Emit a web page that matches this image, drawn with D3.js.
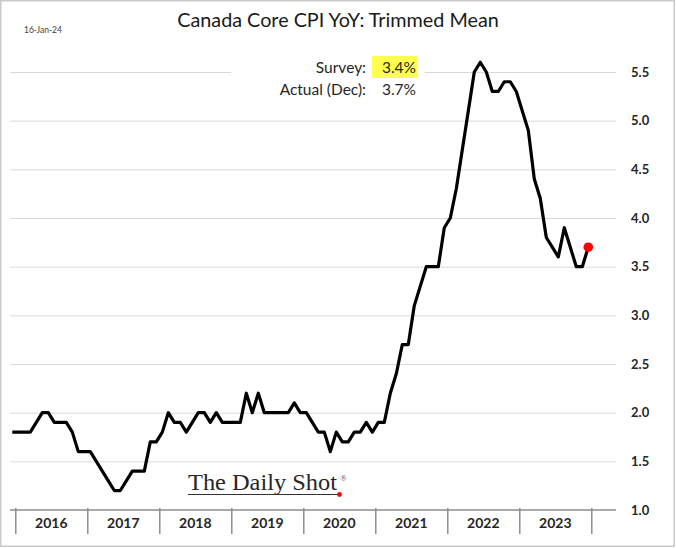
<!DOCTYPE html>
<html>
<head>
<meta charset="utf-8">
<script src="https://cdn.jsdelivr.net/npm/d3@7"></script>
<style>
  html, body { margin: 0; padding: 0; background: #ffffff; }
  svg { display: block; }
</style>
</head>
<body>
<svg id="chart" width="676" height="548"></svg>
<script>
// ---------------- data ----------------
const title = "Canada Core CPI YoY: Trimmed Mean";
const dateLabel = "16-Jan-24";
const firstMonth = "2015-12";           // first plotted observation
const yearLabels = ["2016", "2017", "2018", "2019", "2020", "2021", "2022", "2023"];
const yTicks = [1.0, 1.5, 2.0, 2.5, 3.0, 3.5, 4.0, 4.5, 5.0, 5.5];
// monthly CPI-trim YoY (%), Dec 2015 .. Dec 2023
const dec2015 = [1.8];
const y2016 = [1.8, 1.8, 1.8, 1.9, 2.0, 2.0, 1.9, 1.9, 1.9, 1.8, 1.6, 1.6];
const y2017 = [1.6, 1.5, 1.4, 1.3, 1.2, 1.2, 1.3, 1.4, 1.4, 1.4, 1.7, 1.7];
const y2018 = [1.8, 2.0, 1.9, 1.9, 1.8, 1.9, 2.0, 2.0, 1.9, 2.0, 1.9, 1.9];
const y2019 = [1.9, 1.9, 2.2, 2.0, 2.2, 2.0, 2.0, 2.0, 2.0, 2.0, 2.1, 2.0];
const y2020 = [2.0, 1.9, 1.8, 1.8, 1.6, 1.8, 1.7, 1.7, 1.8, 1.8, 1.9, 1.8];
const y2021 = [1.9, 1.9, 2.2, 2.4, 2.7, 2.7, 3.1, 3.3, 3.5, 3.5, 3.5, 3.9];
const y2022 = [4.0, 4.3, 4.7, 5.1, 5.5, 5.6, 5.5, 5.3, 5.3, 5.4, 5.4, 5.3];
const y2023 = [5.1, 4.9, 4.4, 4.2, 3.8, 3.7, 3.6, 3.9, 3.7, 3.5, 3.5, 3.7];
const surveyLabel = "Survey:";
const surveyValue = "3.4%";
const actualLabel = "Actual (Dec):";
const actualValue = "3.7%";
const logoText = "The Daily Shot";

const values = [].concat(dec2015, y2016, y2017, y2018, y2019, y2020, y2021, y2022, y2023);

// ---------------- layout ----------------
const SANS = "Lato, 'Liberation Sans', sans-serif";
const SERIF = "'Liberation Serif', 'DejaVu Serif', serif";
const svg = d3.select("#chart");
const W = 676, H = 548;
const plotLeft = 10, plotRight = 616;
const yTop = 72, yBottom = 510;

// outer frame
svg.append("rect")
  .attr("x", 0.75).attr("y", 0.75).attr("width", W - 2.5).attr("height", H - 2.5)
  .attr("fill", "#ffffff").attr("stroke", "#c9c9c9").attr("stroke-width", 1.5);

const x = d3.scaleLinear().domain([0, values.length - 1]).range([12.3, 588.3]);
const y = d3.scaleLinear().domain([1.0, 5.5]).range([yBottom, yTop]);

// gridlines
const grid = svg.append("g").attr("transform", `translate(${plotLeft},0)`)
  .call(d3.axisLeft(y).tickValues(yTicks.filter(d => d > 1.0)).tickSize(-(plotRight - plotLeft)).tickFormat(""));
grid.select(".domain").remove();
grid.selectAll("line").attr("stroke", "#d9d9d9").attr("stroke-width", 1);

// y labels on the right
const yAxis = svg.append("g").attr("transform", `translate(627,0)`)
  .call(d3.axisRight(y).tickValues(yTicks).tickSize(0).tickPadding(4).tickFormat(d3.format(".1f")));
yAxis.select(".domain").remove();
yAxis.selectAll("text")
  .attr("font-family", SANS).attr("font-size", 13).attr("font-weight", "bold")
  .attr("fill", "#262626");

// x axis: ticks between years
const tickIdx = d3.range(yearLabels.length + 1).map(k => 0.5 + 12 * k);
const xAxis = svg.append("g").attr("transform", `translate(0,${yBottom})`)
  .call(d3.axisBottom(x).tickValues(tickIdx).tickSize(24).tickFormat(""));
xAxis.select(".domain").remove();
xAxis.selectAll(".tick line").attr("y1", -2).attr("stroke", "#7f7f7f").attr("stroke-width", 1.3);
svg.append("line")
  .attr("x1", plotLeft).attr("x2", plotRight).attr("y1", yBottom).attr("y2", yBottom)
  .attr("stroke", "#8c8c8c").attr("stroke-width", 1.3);
svg.append("g").selectAll("text").data(yearLabels).join("text")
  .attr("x", (d, i) => x(6.5 + 12 * i))
  .attr("y", 527.5)
  .attr("text-anchor", "middle")
  .attr("font-family", SANS)
  .attr("font-size", 14).attr("font-weight", "bold").attr("fill", "#262626")
  .text(d => d);

// annotation box (white, covers gridline)
svg.append("rect").attr("x", 231).attr("y", 50).attr("width", 194).attr("height", 52).attr("fill", "#ffffff");
svg.append("rect").attr("x", 372).attr("y", 56).attr("width", 46).attr("height", 22).attr("fill", "#ffff4f");
const ann = [
  { t: surveyLabel, x: 366, y: 72.5 },
  { t: surveyValue, x: 416, y: 72.5 },
  { t: actualLabel, x: 366, y: 95 },
  { t: actualValue, x: 416, y: 95 }
];
svg.append("g").selectAll("text").data(ann).join("text")
  .attr("x", d => d.x).attr("y", d => d.y).attr("text-anchor", "end")
  .attr("font-family", SANS).attr("font-size", 15.5).attr("fill", "#262626")
  .text(d => d.t);

// title and date
svg.append("text").attr("x", 338).attr("y", 27).attr("text-anchor", "middle")
  .attr("font-family", SANS).attr("font-size", 19.8).attr("fill", "#1a1a1a").text(title);
svg.append("text").attr("x", 24).attr("y", 33)
  .attr("font-family", SANS).attr("font-size", 8.5).attr("fill", "#404040").text(dateLabel);

// logo
svg.append("text").attr("x", 188).attr("y", 489.5)
  .attr("font-family", SERIF)
  .attr("font-size", 22.5).attr("fill", "#262626")
  .attr("textLength", 149).attr("lengthAdjust", "spacingAndGlyphs")
  .text(logoText);
svg.append("text").attr("x", 340).attr("y", 481)
  .attr("font-family", SERIF).attr("font-size", 9).attr("fill", "#555")
  .text("®");
svg.append("line").attr("x1", 188).attr("x2", 338).attr("y1", 494.5).attr("y2", 494.5)
  .attr("stroke", "#333").attr("stroke-width", 1);
svg.append("circle").attr("cx", 339.5).attr("cy", 494.5).attr("r", 2.4).attr("fill", "#ff0000");

// series line
const line = d3.line().x((d, i) => x(i)).y(d => y(d));
svg.append("path").datum(values)
  .attr("d", line)
  .attr("fill", "none").attr("stroke", "#000000").attr("stroke-width", 3.2)
  .attr("stroke-linejoin", "round");

// latest point
svg.append("circle")
  .attr("cx", x(values.length - 1)).attr("cy", y(values[values.length - 1]))
  .attr("r", 4.8).attr("fill", "#ff0000");
</script>
</body>
</html>
